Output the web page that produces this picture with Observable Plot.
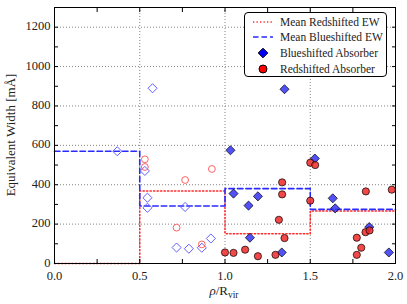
<!DOCTYPE html>
<html><head><meta charset="utf-8">
<script src="https://cdn.jsdelivr.net/npm/d3@7"></script>
<script src="https://cdn.jsdelivr.net/npm/@observablehq/plot@0.6"></script>
<style>
body{margin:0;background:#fff;}
#wrap{position:relative;width:407px;height:304px;}
.legend{position:absolute;left:244px;top:12px;width:143px;height:65px;border:1px solid #000;border-radius:4px;background:#fff;box-sizing:border-box;font-family:"Liberation Serif","Times New Roman","DejaVu Serif",serif;font-size:11.5px;color:#222;}
.row{position:absolute;left:0;height:16px;line-height:16px;white-space:nowrap;}
.row svg{position:absolute;left:6px;top:1px;}
.row span{position:absolute;left:35px;top:0;}
</style>
</head><body>
<div id="wrap"></div>
<script>
// Data
const blueOpenRho = [0.368, 0.575, 0.53, 0.545, 0.545, 0.716, 0.766, 0.788, 0.864, 0.917];
const blueOpenEW  = [570, 890, 470, 334, 283, 81, 287, 75, 80, 127];
const redOpenRho  = [0.53, 0.53, 0.716, 0.766, 0.923, 0.864];
const redOpenEW   = [529, 490, 182, 424, 480, 97];
const blueRho = [1.032, 1.05, 1.193, 1.138, 1.146, 1.333, 1.349, 1.527, 1.632, 1.646, 1.846, 1.961];
const blueEW  = [575, 355, 341, 294, 131, 56, 885, 533, 331, 280, 185, 56];
const redRho = [1.0, 1.05, 1.118, 1.193, 1.296, 1.316, 1.335, 1.335, 1.349, 1.5, 1.5, 1.529, 1.773, 1.773, 1.799, 1.824, 1.848, 1.826, 1.978];
const redEW  = [56, 54, 70, 37, 44, 222, 412, 351, 129, 512, 319, 500, 131, 44, 80, 159, 168, 366, 375];
const binEdges = [0, 0.5, 1.0, 1.5, 2.0];
const meanRed  = [0, 368, 151, 266, 266];
const meanBlue = [570, 292, 380, 275, 275];
const xTickLabels = [0, 0.5, 1.0, 1.5, 2.0];
const xTicksAll = [0, 0.25, 0.5, 0.75, 1.0, 1.25, 1.5, 1.75, 2.0];
const xGrid = [0.5, 1.0, 1.5];
const yTickLabels = [0, 200, 400, 600, 800, 1000, 1200];
const yTicksAll = [0,100,200,300,400,500,600,700,800,900,1000,1100,1200,1300];
const yGrid = [200, 400, 600, 800, 1000, 1200];

const pts = (xs, ys) => xs.map((x, i) => ({x, y: ys[i]}));
const redMean = pts(binEdges, meanRed);
const blueMean = pts(binEdges, meanBlue);

const edge = "rgba(0,0,0,0.7)";
const serif = "'Liberation Serif', 'Times New Roman', 'DejaVu Serif', serif";
const chart = Plot.plot({
  width: 407, height: 304,
  marginLeft: 54, marginRight: 12, marginTop: 7, marginBottom: 41,
  style: {fontFamily: serif, fontSize: "12.5px", color: "#222", background: "#fff"},
  x: {domain: [0, 2]},
  y: {domain: [0, 1300]},
  marks: [
    Plot.gridX(xGrid, {stroke: "#777", strokeOpacity: 1, strokeDasharray: "1,2", strokeWidth: 0.9}),
    Plot.gridY(yGrid, {stroke: "#777", strokeOpacity: 1, strokeDasharray: "1,2", strokeWidth: 0.9}),
    Plot.line(redMean, {x: "x", y: "y", curve: "step-after", stroke: "#ff2a2a", strokeWidth: 1.5, strokeDasharray: "1.3,2.2"}),
    Plot.line(blueMean, {x: "x", y: "y", curve: "step-after", stroke: "#2a2aff", strokeWidth: 1.6, strokeDasharray: "5.5,3"}),
    Plot.dot(pts(blueOpenRho, blueOpenEW), {x: "x", y: "y", symbol: "diamond2", r: 4.1, fill: "none", stroke: "#6060ff", strokeWidth: 1}),
    Plot.dot(pts(redOpenRho, redOpenEW), {x: "x", y: "y", r: 3.4, fill: "none", stroke: "#ff6060", strokeWidth: 1}),
    Plot.dot(pts(blueRho, blueEW), {x: "x", y: "y", symbol: "diamond2", r: 4.1, fill: "rgb(50,50,245)", fillOpacity: 0.85, stroke: edge, strokeWidth: 1}),
    Plot.dot(pts(redRho, redEW), {x: "x", y: "y", r: 3.6, fill: "rgb(240,40,40)", fillOpacity: 0.85, stroke: edge, strokeWidth: 1}),
    Plot.axisX(xTickLabels, {tickSize: 0, tickPadding: 8, tickFormat: d3.format(".1f"), label: null}),
    Plot.axisX(xTicksAll, {tickSize: -4, fill: "none", label: null, stroke: "#000"}),
    Plot.axisX(xTicksAll, {anchor: "top", tickSize: -4, fill: "none", label: null, stroke: "#000"}),
    Plot.axisY(yTickLabels, {tickSize: 0, tickPadding: 4, tickFormat: d3.format("d"), label: null, dy: -1}),
    Plot.axisY(yTicksAll, {tickSize: -4, fill: "none", label: null, stroke: "#000"}),
    Plot.axisY(yTicksAll, {anchor: "right", tickSize: -4, fill: "none", label: null, stroke: "#000"}),
    Plot.frame({stroke: "#000", strokeWidth: 1})
  ]
});

const svg = d3.select(chart);
svg.append("text")
  .attr("transform", "translate(15,135) rotate(-90)")
  .attr("text-anchor", "middle")
  .attr("font-size", "13px")
  .attr("font-family", serif)
  .attr("fill", "#222")
  .text("Equivalent Width [mÅ]");
const xl = svg.append("text")
  .attr("x", 224).attr("y", 295)
  .attr("text-anchor", "middle")
  .attr("font-size", "13px")
  .attr("font-family", serif)
  .attr("fill", "#222");
xl.append("tspan").attr("font-style", "italic").text("ρ");
xl.append("tspan").text("/R");
xl.append("tspan").attr("font-size", "9.5px").attr("dy", "3").text("vir");

const wrap = document.getElementById("wrap");
wrap.appendChild(chart);

const legend = document.createElement("div");
legend.className = "legend";
legend.innerHTML = `
<div class="row" style="top:1px"><svg width="24" height="14"><line x1="2" y1="7" x2="22" y2="7" stroke="#ff2a2a" stroke-width="1.5" stroke-dasharray="1.3,2.2"/></svg><span>Mean Redshifted EW</span></div>
<div class="row" style="top:16px"><svg width="24" height="14"><line x1="2" y1="7" x2="22" y2="7" stroke="#2a2aff" stroke-width="1.6" stroke-dasharray="5.5,3"/></svg><span>Mean Blueshifted EW</span></div>
<div class="row" style="top:32px"><svg width="24" height="14"><path d="M12,2.2L16.8,7L12,11.8L7.2,7Z" fill="#0000ff" stroke="#000" stroke-width="1"/></svg><span>Blueshifted Absorber</span></div>
<div class="row" style="top:48px"><svg width="24" height="14"><circle cx="12" cy="7" r="4" fill="#ff0000" stroke="#000" stroke-width="1"/></svg><span>Redshifted Absorber</span></div>`;
wrap.appendChild(legend);
</script>
</body></html>
